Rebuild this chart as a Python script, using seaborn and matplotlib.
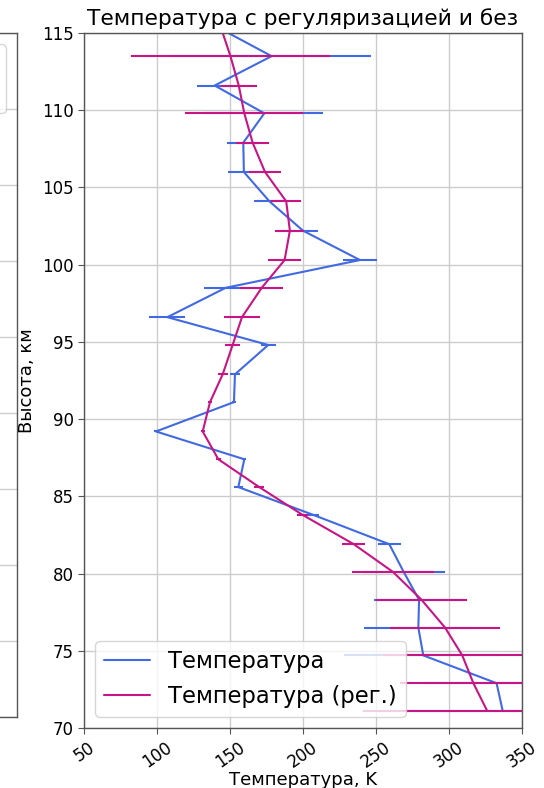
import matplotlib
matplotlib.use("Agg")
import matplotlib.pyplot as plt
import seaborn as sns
from matplotlib.lines import Line2D

# ---- data ----
height_km = [71.1, 72.9, 74.7, 76.5, 78.3, 80.1, 81.9, 83.8, 85.6, 87.4, 89.2, 91.1,
             92.9, 94.8, 96.6, 98.5, 100.3, 102.2, 104.1, 106.0, 107.9, 109.8, 111.6,
             113.5, 115.4]
temp_raw = [336.8, 332.6, 282.4, 279.0, 279.5, 269.0, 259.1, 207.0, 155.7, 159.8, 99.3,
            152.7, 153.4, 176.2, 107.1, 147.0, 239.0, 200.0, 177.0, 159.5, 159.1, 173.5,
            139.5, 178.5, 141.0]
temp_reg = [326.2, 316.7, 309.1, 297.3, 281.2, 261.7, 234.8, 199.7, 170.0, 142.0, 131.3,
            136.3, 145.0, 151.8, 158.2, 171.7, 187.4, 191.0, 188.5, 174.0, 165.5, 159.8,
            156.0, 150.3, 143.6]
temp_err = [85.0, 50.0, 54.0, 37.5, 31.0, 28.0, 8.0, 4.0, 3.3, 1.5, 1.5, 1.5,
            3.5, 5.0, 12.3, 14.7, 11.4, 10.0, 10.3, 11.2, 11.4, 40.5, 12.3,
            68.3, 20.0]
x_ticks = [50, 100, 150, 200, 250, 300, 350]
y_ticks = [70, 75, 80, 85, 90, 95, 100, 105, 110, 115]
label_raw = "Температура"
label_reg = "Температура (рег.)"
title = "Температура с регуляризацией и без"
xlabel = "Температура, K"
ylabel = "Высота, км"

BLUE = "#4169E1"
MAGENTA = "#C71585"

sns.set_style("ticks", {"axes.edgecolor": "#555555", "grid.color": "#cccccc",
                        "text.color": "black", "axes.labelcolor": "black",
                        "xtick.color": "black", "ytick.color": "black"})
plt.rcParams["font.family"] = ["DejaVu Sans"]

W, H = 544, 788
fig = plt.figure(figsize=(W / 100, H / 100), dpi=100)

# partially visible neighbouring panel (cut off at the left edge of the image)
axL = fig.add_axes([(16.7 - 438) / W, 1 - 716.7 / H, 438 / W, (716.7 - 33) / H])
axL.set_ylim(70, 115)
axL.set_yticks(y_ticks)
axL.set_xlim(0, 1)
axL.set_xticks([])
axL.yaxis.grid(True, color="#cccccc", lw=1.0)
axL.tick_params(labelleft=False, left=False)
for s in axL.spines.values():
    s.set_color("#555555")
    s.set_linewidth(1.0)
hL = [Line2D([], [], color=BLUE, lw=1.5), Line2D([], [], color=MAGENTA, lw=1.5)]
legL = axL.legend(hL, [label_raw, label_reg], loc="upper right", fontsize=16)
for t in legL.get_texts():
    t.set_visible(False)   # its texts lie outside the image in the reference
for ln in legL.get_lines():
    ln.set_visible(False)

# main panel
ax = fig.add_axes([84 / W, 1 - 728 / H, 438 / W, 695 / H])
sns.lineplot(x=temp_raw, y=height_km, sort=False, estimator=None, color=BLUE,
             lw=1.5, ax=ax, legend=False)
ax.errorbar(temp_raw, height_km, xerr=temp_err, fmt="none", ecolor=BLUE,
            elinewidth=1.5, capsize=0)
sns.lineplot(x=temp_reg, y=height_km, sort=False, estimator=None, color=MAGENTA,
             lw=1.5, ax=ax, legend=False)
ax.errorbar(temp_reg, height_km, xerr=temp_err, fmt="none", ecolor=MAGENTA,
            elinewidth=1.5, capsize=0)

ax.set_xlim(50, 350)
ax.set_ylim(70, 115)
ax.set_xticks(x_ticks)
ax.set_yticks(y_ticks)
ax.grid(True, color="#cccccc", lw=1.0)
ax.tick_params(labelsize=12, color="#555555", labelcolor="black", length=4)
plt.setp(ax.get_xticklabels(), rotation=35)
for s in ax.spines.values():
    s.set_color("#555555")
    s.set_linewidth(1.0)
ax.set_title(title, fontsize=15.7, color="black")
ax.set_xlabel(xlabel, fontsize=13, labelpad=0.0)
ax.set_ylabel(ylabel, fontsize=13)
h = [Line2D([], [], color=BLUE, lw=1.5), Line2D([], [], color=MAGENTA, lw=1.5)]
ax.legend(h, [label_raw, label_reg], loc="lower left", fontsize=16.3)

fig.savefig("out.png", dpi=100)
